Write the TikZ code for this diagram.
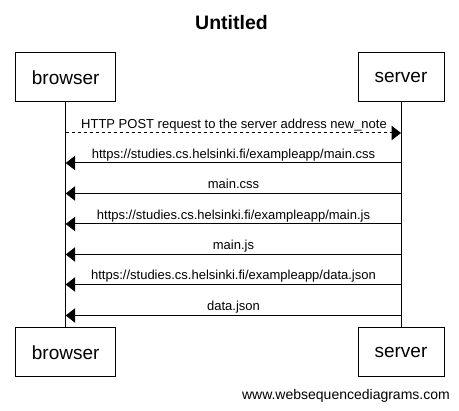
\documentclass[tikz,border=0pt]{standalone}
\usepackage{fontspec}
\setmainfont{Liberation Sans}
\usetikzlibrary{arrows.meta}
\begin{document}
\begin{tikzpicture}[x=1pt,y=-1pt,
  actor/.style={draw=black,line width=1pt,minimum height=49pt,inner sep=0pt,font=\fontsize{19}{22}\selectfont},
  life/.style={draw=black,line width=1pt},
  msg/.style={draw=black,line width=1pt,-{Triangle[length=9.5pt,width=14.5pt]}},
  rmsg/.style={msg,dashed},
  lbl/.style={anchor=base,inner sep=0pt,font=\fontsize{13}{15}\selectfont}]
\useasboundingbox[fill=white] (0,0) rectangle (459,411);
\node[anchor=base,font=\bfseries\fontsize{19.5}{22}\selectfont] (title) at (231.5,30) {Untitled};
\node[actor,minimum width=100pt] (bt) at (65.7,77.5) {browser};
\node[actor,minimum width=86pt] (st) at (401,77.5) {server};
\node[actor,minimum width=100pt] (bb) at (65.7,352.5) {browser};
\node[actor,minimum width=86pt] (sb) at (401,352.5) {server};
\draw[life] (bt.south) -- (bb.north);
\draw[life] (st.south) -- (sb.north);
% message anchor coordinates
\foreach \i/\y in {1/133,2/163,3/193.5,4/224,5/254.5,6/284.5,7/315.5}{
  \coordinate (b\i) at (65.7,\y);
  \coordinate (s\i) at (401,\y);
}
\draw[rmsg] (b1) -- (s1);
\node[lbl] (l1) at (234,128.5) {HTTP POST request to the server address new\_note};
\draw[msg] (s2) -- (b2);
\node[lbl] (l2) at (233.5,158.5) {https://studies.cs.helsinki.fi/exampleapp/main.css};
\draw[msg] (s3) -- (b3);
\node[lbl] (l3) at (233.5,189) {main.css};
\draw[msg] (s4) -- (b4);
\node[lbl] (l4) at (233.5,219.5) {https://studies.cs.helsinki.fi/exampleapp/main.js};
\draw[msg] (s5) -- (b5);
\node[lbl] (l5) at (233.5,250) {main.js};
\draw[msg] (s6) -- (b6);
\node[lbl] (l6) at (233.5,280) {https://studies.cs.helsinki.fi/exampleapp/data.json};
\draw[msg] (s7) -- (b7);
\node[lbl] (l7) at (233.5,311) {data.json};
\node[anchor=base east,inner sep=0pt,font=\fontsize{14}{16}\selectfont] (wm) at (450,400) {www.websequencediagrams.com};
\end{tikzpicture}
\end{document}
